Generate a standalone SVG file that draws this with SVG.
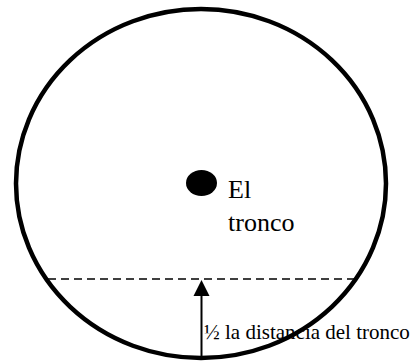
<svg xmlns="http://www.w3.org/2000/svg" width="413" height="362" viewBox="0 0 413 362">
<style>
text{font-family:"Liberation Serif","DejaVu Serif",serif;fill:#000}
</style>
<rect width="413" height="362" fill="#fff"/>
<g id="boundary">
<ellipse cx="201" cy="183.5" rx="185" ry="174.5" fill="none" stroke="#000" stroke-width="4.5"/>
</g>
<g id="trunk">
<ellipse cx="201.5" cy="183" rx="15.5" ry="13" fill="#000"/>
<text x="228" y="198" font-size="26">El</text>
<text x="228" y="231" font-size="26">tronco</text>
</g>
<g id="connectors">
<line x1="48" y1="279" x2="358" y2="279" stroke="#000" stroke-width="1.5" stroke-dasharray="8,5"/>
<path d="M201.5,360 L201.5,294" stroke="#000" stroke-width="2"/>
<path d="M201.5,280 L209.5,296 L193.5,296 Z" fill="#000"/>
</g>
<g id="label">
<text x="204" y="339" font-size="21">½ la distancia del tronco</text>
</g>
</svg>
